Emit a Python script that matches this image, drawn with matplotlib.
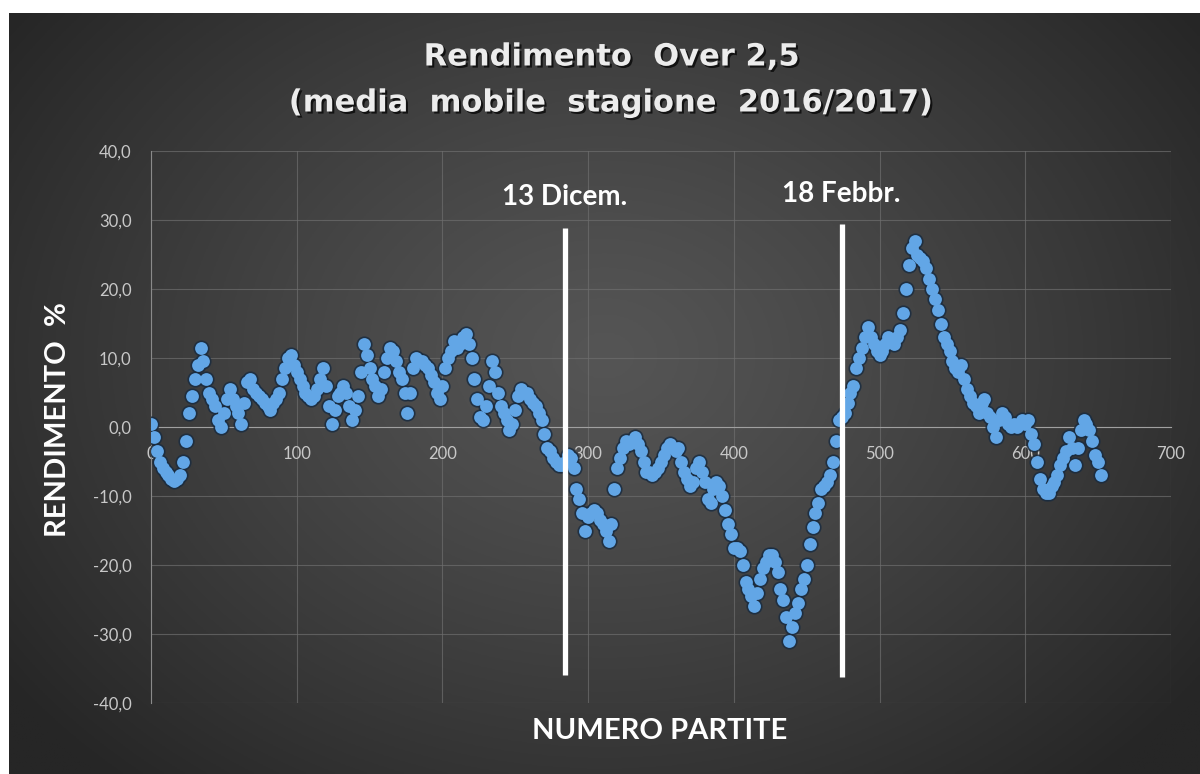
import numpy as np
import matplotlib
matplotlib.use("Agg")
import matplotlib.pyplot as plt
import matplotlib.patheffects as pe

# moving-average return (%) read every 2 matches
rendimento = [
    0.5, -1.5, -3.5, -5, -6, -6.5, -7, -7.5, -7.8, -7.5,
    -7, -5, -2, 2, 4.5, 7, 9, 11.5, 9.5, 7,
    5, 4, 3, 1, 0, 2, 4, 5.5, 4, 3,
    2, 0.5, 3.5, 6.5, 7, 5.5, 5, 4.5, 4, 3.5,
    3, 2.5, 3.5, 4, 5, 7, 8.5, 10, 10.5, 9,
    8, 7, 6, 5, 4.5, 4,
    4.5, 5.5, 7, 8.5, 6, 3, 0.5, 2.5, 4.5, 5,
    6, 5, 3, 1, 2.5, 4.5, 8, 12, 10.5, 8.5,
    7, 6, 4.5, 5.5, 8, 10, 11.5, 11, 9.5, 8,
    7, 5, 2, 5, 8.5, 10, 9.5, 9.5, 9, 8.5,
    7.5, 6.5, 5, 4, 6, 8.5, 10, 11, 12.5, 11.5,
    12, 13, 13.5, 12, 10, 7, 4, 1.5,
    1, 3, 6, 9.5, 8, 5, 3, 2, 1, -0.5,
    0.5, 2.5, 4.5, 5.5, 5, 5, 4, 3.5, 3, 2,
    1, -1, -3, -3.5, -4.5, -5, -5.5, -5.5, -5, -4,
    -4.5, -6, -9, -10.5, -12.5, -15, -13, -12.5, -12, -12.5,
    -13.5, -14, -15, -16.5, -14, -9, -6, -4.5, -3, -2,
    -2.5, -2,
    -1.5, -2.5, -3.5, -5, -6.5, -6.5, -7, -6.5, -6, -5,
    -4, -3, -2.5, -3, -3.5, -3, -5, -6.5, -7.5, -8.5,
    -8, -6, -5, -6.5, -8, -10.5, -11, -9, -8, -8.5,
    -10, -12, -14, -15.5, -17.5, -17.5, -18, -20, -22.5, -23.5,
    -24.5, -26, -24, -22, -20.5, -19.5, -18.5, -18.5, -19.5, -21,
    -23.5, -25, -27.5, -31, -29, -27, -25.5, -23.5, -22, -20,
    -17, -14.5, -12.5, -11, -9, -8.5, -8, -7, -5, -2,
    1, 1.5, 2, 3.5, 5, 6, 8.5, 10, 11.5, 13,
    14.5, 13, 12, 11, 10.5, 11, 12, 13, 12.5, 12,
    13, 14, 16.5, 20, 23.5, 26, 27, 25, 24.5, 24,
    23, 21.5, 20, 18.5, 17, 15, 13, 12, 11, 9.5,
    8.5, 8, 9, 7, 5.5, 4.5, 3.5, 3, 2, 3.5,
    4, 2, 1.5, 0, -1.5, 1, 2, 1.5, 0.5, 0,
    0.5, 0, 0.5, 1, 0.5, 1, -1, -2.5, -5, -7.5,
    -9, -9.5, -9.5, -8.5, -8, -7, -5.5, -4.5, -3.5, -1.5,
    -3, -5.5, -3, -0.5, 1, 0.5, -0.5, -2, -4, -5,
    -7,
]
partite = np.arange(len(rendimento)) * 2

eventi = ["13 Dicem.", "18 Febbr."]
eventi_x = [284, 474]
eventi_y0 = [-36.0, -36.3]
eventi_y1 = [28.9, 29.4]

W, H = 1200, 774
fig = plt.figure(figsize=(W / 100, H / 100), dpi=100, facecolor="white")

# dark radial background (white strip on top and left)
bg = fig.add_axes([9 / W, 0, 1 - 9 / W, (H - 13) / H])
yy, xx = np.mgrid[0:1:300j, 0:1:460j]
r = np.sqrt(((xx - 0.5) / 0.62) ** 2 + ((yy - 0.55) / 0.75) ** 2)
r = np.clip(r, 0, 1)
c0 = np.array([0x55, 0x55, 0x55]) / 255
c1 = np.array([0x26, 0x26, 0x26]) / 255
img = c0 + (c1 - c0) * r[..., None] ** 1.2
bg.imshow(img, aspect="auto", extent=[0, 1, 0, 1], origin="lower")
bg.set_axis_off()

ax = fig.add_axes([151 / W, 71 / H, 1020 / W, 552 / H])
ax.patch.set_alpha(0)
ax.set_xlim(0, 700)
ax.set_ylim(-40, 40)
ax.set_xticks(range(0, 701, 100))
ax.set_yticks(range(-40, 41, 10))
ax.set_yticklabels([f"{v},0" for v in range(-40, 41, 10)])
ax.grid(True, color="#6e6e6e", linewidth=0.8, alpha=0.7)
ax.set_axisbelow(True)
for s in ["top", "right"]:
    ax.spines[s].set_visible(False)
ax.spines["bottom"].set_position(("data", 0))
ax.spines["bottom"].set_color("#a0a0a0")
ax.spines["left"].set_color("#8a8a8a")
ax.tick_params(axis="both", length=0, labelcolor="#c8c8c8", labelsize=12)
ax.tick_params(axis="x", pad=14)
ax.tick_params(axis="y", pad=14)
for lab in ax.get_xticklabels() + ax.get_yticklabels():
    lab.set_family("Lato")

# points with dark rim
ax.scatter(partite, rendimento, s=135, color="#1a2c40", alpha=0.85, linewidths=0, zorder=3)
ax.scatter(partite, rendimento, s=85, color="#62a6e6", linewidths=0, zorder=4)

for nome, xv, y0, y1 in zip(eventi, eventi_x, eventi_y0, eventi_y1):
    ax.plot([xv, xv], [y0, y1], color="white", linewidth=3.8, solid_capstyle="butt", zorder=5)
    ax.text(xv, y1 + 2.5, nome, color="white", fontsize=20, fontweight="bold",
            family="Lato", ha="center", va="bottom", zorder=6)

shadow = [pe.SimplePatchShadow(offset=(1.5, -1.5), shadow_rgbFace="black", alpha=0.7), pe.Normal()]
fig.text(611 / W, 1 - 57 / H, "Rendimento  Over 2,5", color="#ececec", fontsize=22,
         fontweight="bold", family=["Liberation Sans Narrow", "DejaVu Sans"],
         ha="center", va="center", path_effects=shadow)
fig.text(610 / W, 1 - 103 / H, "(media  mobile  stagione  2016/2017)", color="#ececec", fontsize=22,
         fontweight="bold", family=["Liberation Sans Narrow", "DejaVu Sans"],
         ha="center", va="center", path_effects=shadow)

fig.text(58 / W, 1 - 420 / H, "RENDIMENTO  %", color="white", fontsize=21, fontweight="bold",
         family="Lato", rotation=90, ha="center", va="center")
fig.text(660 / W, 1 - 731 / H, "NUMERO PARTITE", color="white", fontsize=21, fontweight="bold",
         family="Lato", ha="center", va="center")

fig.savefig("out.png", dpi=100, facecolor="white")
